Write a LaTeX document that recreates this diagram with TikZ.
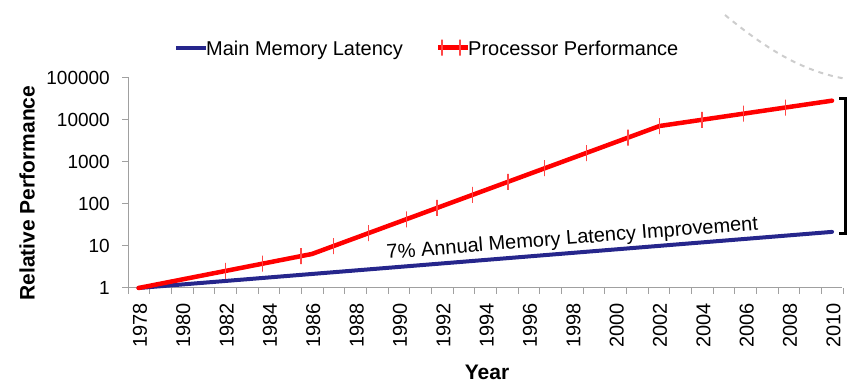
\documentclass[tikz,border=0pt]{standalone}
\usepackage{fontspec}
\setmainfont{Liberation Sans}
\definecolor{memblue}{RGB}{38,38,140}
\definecolor{procred}{RGB}{255,0,0}
\definecolor{markred}{RGB}{255,70,70}
\definecolor{axisgray}{RGB}{160,160,160}
\definecolor{arcgray}{RGB}{205,205,205}

\begin{document}
\begin{tikzpicture}[x=1pt,y=1pt]
	\tikzset{axisline/.style =
	{draw = axisgray,
		line width = 1pt},
	ticklabel/.style = {inner sep = 0pt, font = \fontsize{19}{22}\selectfont},
	yearlabel/.style = {inner sep = 0pt, rotate = 90, anchor = east,
		font = \fontsize{20}{24}\selectfont},
	axistitle/.style = {inner sep = 0pt, font = \fontsize{21}{25}\selectfont\bfseries},
	legendtext/.style = {inner sep = 0pt, anchor = base west,
		font = \fontsize{20}{24}\selectfont},
	memline/.style = {draw = memblue, line width = 4pt, line cap = round},
	procline/.style = {draw = procred, line width = 4.5pt, line cap = round, line join = round},
	procmark/.style = {draw = markred, line width = 1.3pt, shape = rectangle,
		inner sep = 0pt, minimum width = 0pt, minimum height = 16pt},
	bracketline/.style = {draw = black, line width = 3pt},
	arcline/.style = {draw = arcgray, line width = 2pt, dash pattern = on 5pt off 5pt}}
\def\catw{21.67}
\useasboundingbox (0,0) rectangle (847,385);

% axes
\draw[axisline] (128,308) -- (128,91);
\draw[axisline] (128,97) -- (842,97);
\foreach \k/\lab in {0/1,1/10,2/100,3/1000,4/10000,5/100000}{
	\draw[axisline] (122,97+42*\k) -- (128,97+42*\k);
	\node[ticklabel, anchor = east] (ylab\k) at (110,97+42*\k) {\lab};
}
\foreach \k in {1,...,33}
	\draw[axisline] (128+\catw*\k,97) -- (128+\catw*\k,91);
\foreach \i in {0,2,...,32}{
	\pgfmathtruncatemacro\yr{1978+\i}
	\node[yearlabel] (yr\i) at (140+\catw*\i,82) {\yr};
}
\node[axistitle, rotate = 90] (ytitle) at (27,192) {Relative Performance};
\node[axistitle] (xtitle) at (487,13) {Year};

% data, in years since 1978 and decades
\begin{scope}[shift = {(138.6pt,97pt)}, x = 21.67pt, y = 42pt]
\coordinate (m0) at (0,0);
\coordinate (m1) at (32,1.336);
\coordinate (p0) at (0,0);
\coordinate (p1) at (8,0.81);
\coordinate (p2) at (24.04,3.857);
\coordinate (p3) at (32,4.46);
\draw[memline] (m0) -- (m1);
\draw[procline] (p0) -- (p1) -- (p2) -- (p3);
\path (p0) -- (p1) foreach \t in {0.5,0.715,0.936}{node[procmark, pos = \t] {}};
\path (p1) -- (p2) foreach \t in {0.062,0.163,0.271,0.360,0.461,0.564,0.670,0.789,0.909,1}{node[procmark, pos = \t] {}};
\path (p2) -- (p3) foreach \t in {0.246,0.487,0.729}{node[procmark, pos = \t] {}};
\end{scope}
\node[inner sep = 0pt, anchor = base west, rotate = 4.5,
	font = \fontsize{20}{24}\selectfont] (note) at (387,126)
	{7\% Annual Memory Latency Improvement};

% gap bracket and faded arc
\draw[bracketline] (839,286) -- (845,286) -- (845,151) -- (839,151);
\draw[arcline] (725,370) .. controls (770,333) and (805,313) .. (847,306);

% legend
\coordinate (la) at (176,337.3);
\coordinate (lb) at (206,337.3);
\coordinate (lc) at (438,337.3);
\coordinate (ld) at (468,337.3);
\draw[memline, line cap = butt] (la) -- (lb);
\node[legendtext] (memkey) at (206,329) {Main Memory Latency};
\draw[procline, line cap = butt] (lc) -- (ld);
\node[procmark] at (442,337.3) {};
\node[procmark] at (460,337.3) {};
\node[legendtext] (prockey) at (468,329) {Processor Performance};
\end{tikzpicture}
\end{document}
